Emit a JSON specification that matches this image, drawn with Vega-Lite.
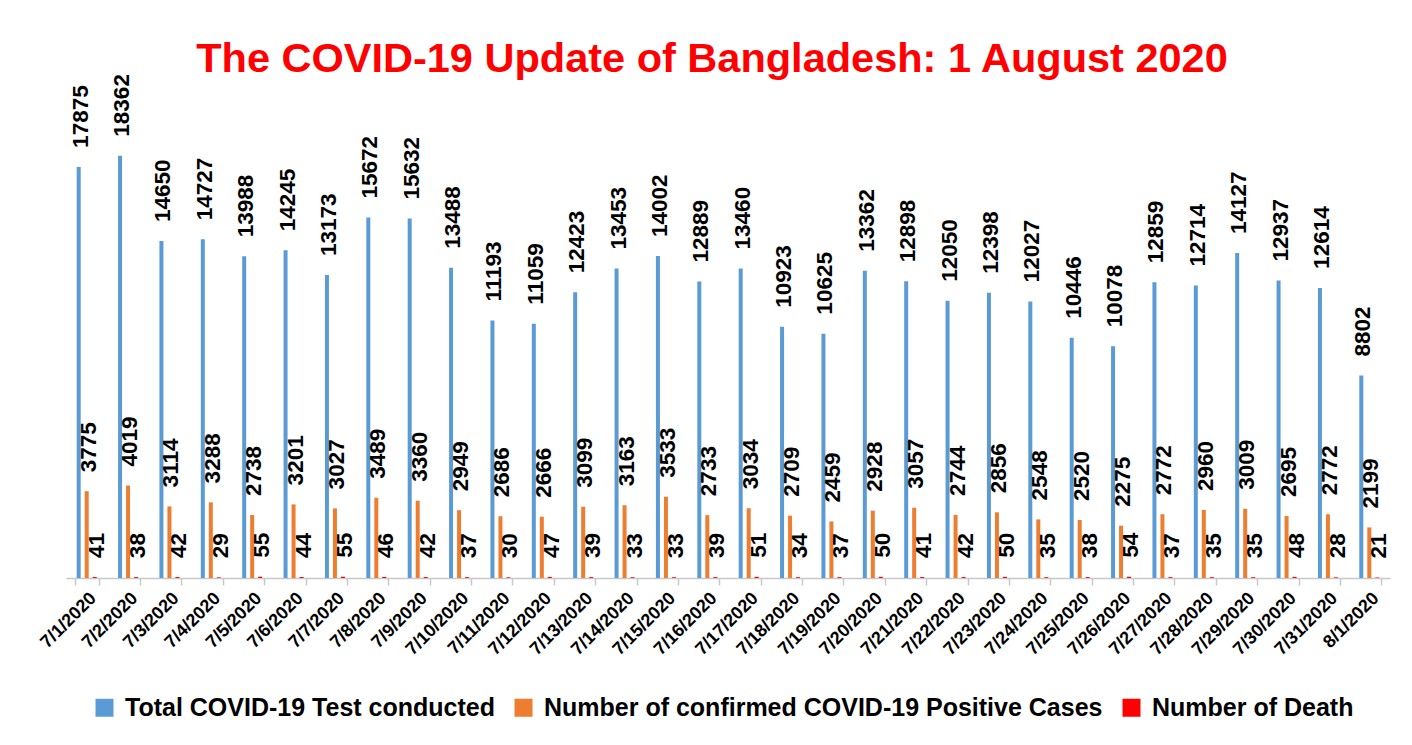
{
  "$schema": "https://vega.github.io/schema/vega-lite/v6.json",
  "width": 1324,
  "height": 460,
  "autosize": {"type": "none"},
  "padding": {"left": 66, "top": 118, "right": 22, "bottom": 167},
  "background": "white",
  "config": {"view": {"stroke": null}, "font": "Liberation Sans"},
  "title": {
    "text": "The COVID-19 Update of Bangladesh: 1 August 2020",
    "color": "#FF0000",
    "font": "Liberation Sans",
    "fontSize": 41.5,
    "fontWeight": "bold",
    "anchor": "middle",
    "dx": -16,
    "offset": -6
  },
  "data": {
    "values": [
      {"date": "7/1/2020", "Total COVID-19 Test conducted": 17875, "Number of confirmed COVID-19 Positive Cases": 3775, "Number of Death": 41},
      {"date": "7/2/2020", "Total COVID-19 Test conducted": 18362, "Number of confirmed COVID-19 Positive Cases": 4019, "Number of Death": 38},
      {"date": "7/3/2020", "Total COVID-19 Test conducted": 14650, "Number of confirmed COVID-19 Positive Cases": 3114, "Number of Death": 42},
      {"date": "7/4/2020", "Total COVID-19 Test conducted": 14727, "Number of confirmed COVID-19 Positive Cases": 3288, "Number of Death": 29},
      {"date": "7/5/2020", "Total COVID-19 Test conducted": 13988, "Number of confirmed COVID-19 Positive Cases": 2738, "Number of Death": 55},
      {"date": "7/6/2020", "Total COVID-19 Test conducted": 14245, "Number of confirmed COVID-19 Positive Cases": 3201, "Number of Death": 44},
      {"date": "7/7/2020", "Total COVID-19 Test conducted": 13173, "Number of confirmed COVID-19 Positive Cases": 3027, "Number of Death": 55},
      {"date": "7/8/2020", "Total COVID-19 Test conducted": 15672, "Number of confirmed COVID-19 Positive Cases": 3489, "Number of Death": 46},
      {"date": "7/9/2020", "Total COVID-19 Test conducted": 15632, "Number of confirmed COVID-19 Positive Cases": 3360, "Number of Death": 42},
      {"date": "7/10/2020", "Total COVID-19 Test conducted": 13488, "Number of confirmed COVID-19 Positive Cases": 2949, "Number of Death": 37},
      {"date": "7/11/2020", "Total COVID-19 Test conducted": 11193, "Number of confirmed COVID-19 Positive Cases": 2686, "Number of Death": 30},
      {"date": "7/12/2020", "Total COVID-19 Test conducted": 11059, "Number of confirmed COVID-19 Positive Cases": 2666, "Number of Death": 47},
      {"date": "7/13/2020", "Total COVID-19 Test conducted": 12423, "Number of confirmed COVID-19 Positive Cases": 3099, "Number of Death": 39},
      {"date": "7/14/2020", "Total COVID-19 Test conducted": 13453, "Number of confirmed COVID-19 Positive Cases": 3163, "Number of Death": 33},
      {"date": "7/15/2020", "Total COVID-19 Test conducted": 14002, "Number of confirmed COVID-19 Positive Cases": 3533, "Number of Death": 33},
      {"date": "7/16/2020", "Total COVID-19 Test conducted": 12889, "Number of confirmed COVID-19 Positive Cases": 2733, "Number of Death": 39},
      {"date": "7/17/2020", "Total COVID-19 Test conducted": 13460, "Number of confirmed COVID-19 Positive Cases": 3034, "Number of Death": 51},
      {"date": "7/18/2020", "Total COVID-19 Test conducted": 10923, "Number of confirmed COVID-19 Positive Cases": 2709, "Number of Death": 34},
      {"date": "7/19/2020", "Total COVID-19 Test conducted": 10625, "Number of confirmed COVID-19 Positive Cases": 2459, "Number of Death": 37},
      {"date": "7/20/2020", "Total COVID-19 Test conducted": 13362, "Number of confirmed COVID-19 Positive Cases": 2928, "Number of Death": 50},
      {"date": "7/21/2020", "Total COVID-19 Test conducted": 12898, "Number of confirmed COVID-19 Positive Cases": 3057, "Number of Death": 41},
      {"date": "7/22/2020", "Total COVID-19 Test conducted": 12050, "Number of confirmed COVID-19 Positive Cases": 2744, "Number of Death": 42},
      {"date": "7/23/2020", "Total COVID-19 Test conducted": 12398, "Number of confirmed COVID-19 Positive Cases": 2856, "Number of Death": 50},
      {"date": "7/24/2020", "Total COVID-19 Test conducted": 12027, "Number of confirmed COVID-19 Positive Cases": 2548, "Number of Death": 35},
      {"date": "7/25/2020", "Total COVID-19 Test conducted": 10446, "Number of confirmed COVID-19 Positive Cases": 2520, "Number of Death": 38},
      {"date": "7/26/2020", "Total COVID-19 Test conducted": 10078, "Number of confirmed COVID-19 Positive Cases": 2275, "Number of Death": 54},
      {"date": "7/27/2020", "Total COVID-19 Test conducted": 12859, "Number of confirmed COVID-19 Positive Cases": 2772, "Number of Death": 37},
      {"date": "7/28/2020", "Total COVID-19 Test conducted": 12714, "Number of confirmed COVID-19 Positive Cases": 2960, "Number of Death": 35},
      {"date": "7/29/2020", "Total COVID-19 Test conducted": 14127, "Number of confirmed COVID-19 Positive Cases": 3009, "Number of Death": 35},
      {"date": "7/30/2020", "Total COVID-19 Test conducted": 12937, "Number of confirmed COVID-19 Positive Cases": 2695, "Number of Death": 48},
      {"date": "7/31/2020", "Total COVID-19 Test conducted": 12614, "Number of confirmed COVID-19 Positive Cases": 2772, "Number of Death": 28},
      {"date": "8/1/2020", "Total COVID-19 Test conducted": 8802, "Number of confirmed COVID-19 Positive Cases": 2199, "Number of Death": 21}
    ]
  },
  "transform": [
    {"fold": ["Total COVID-19 Test conducted", "Number of confirmed COVID-19 Positive Cases", "Number of Death"], "as": ["series", "value"]}
  ],
  "encoding": {
    "x": {
      "field": "date",
      "type": "nominal",
      "sort": null,
      "title": null,
      "scale": {"paddingInner": 0.42, "paddingOuter": 0.21},
      "axis": {
        "labelAngle": -45,
        "labelFontSize": 18,
        "labelFontWeight": "bold",
        "labelColor": "black",
        "labelFont": "Liberation Sans",
        "domainColor": "#C8C8C8",
        "domainWidth": 1.5,
        "tickColor": "#C8C8C8",
        "tickWidth": 1.5,
        "tickSize": 7,
        "tickBand": "extent",
        "labelPadding": 4
      }
    },
    "xOffset": {
      "field": "series",
      "type": "nominal",
      "sort": ["Total COVID-19 Test conducted", "Number of confirmed COVID-19 Positive Cases", "Number of Death"],
      "scale": {"paddingInner": 0.5, "paddingOuter": 0.25}
    },
    "y": {
      "field": "value",
      "type": "quantitative",
      "scale": {"domain": [0, 20000]},
      "axis": null
    }
  },
  "layer": [
    {
      "mark": {"type": "bar"},
      "encoding": {
        "color": {
          "field": "series",
          "type": "nominal",
          "scale": {
            "domain": ["Total COVID-19 Test conducted", "Number of confirmed COVID-19 Positive Cases", "Number of Death"],
            "range": ["#5B9BD5", "#ED7D31", "#FF0000"]
          },
          "legend": {
            "title": null,
            "orient": "none",
            "legendX": 26,
            "legendY": 577,
            "direction": "horizontal",
            "labelFontSize": 25,
            "labelFontWeight": "bold",
            "labelColor": "black",
            "labelFont": "Liberation Sans",
            "labelLimit": 700,
            "labelOffset": 8,
            "symbolType": "square",
            "symbolSize": 324,
            "symbolStrokeWidth": 0,
            "columnPadding": 16,
            "symbolOffset": 0
          }
        }
      }
    },
    {
      "mark": {"type": "text", "angle": -90, "align": "left", "baseline": "middle", "dx": 19, "dy": 2, "fontSize": 22.5, "fontWeight": "bold", "color": "black", "font": "Liberation Sans"},
      "encoding": {
        "text": {"field": "value", "type": "quantitative", "format": "d"}
      }
    }
  ]
}
